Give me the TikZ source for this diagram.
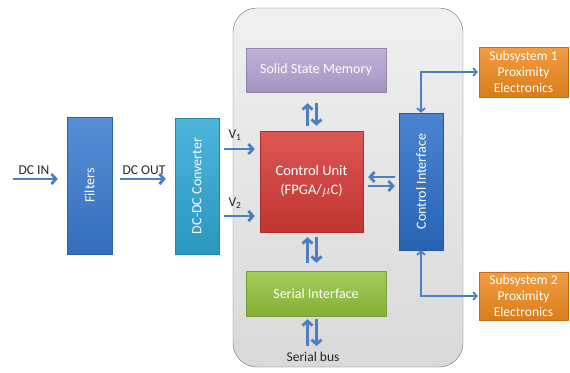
\documentclass[tikz,border=0pt]{standalone}
\usepackage{fontspec}
\setmainfont{Carlito}
\usetikzlibrary{arrows.meta}

\definecolor{filterblue}{HTML}{3A7AD0}
\definecolor{convcyan}{HTML}{2EA8D4}
\definecolor{memlilac}{HTML}{B6A4D6}
\definecolor{unitred}{HTML}{D63A36}
\definecolor{ifaceblue}{HTML}{2C6EC8}
\definecolor{serialgreen}{HTML}{92C43E}
\definecolor{suborange}{HTML}{F18B1F}
\definecolor{linkblue}{HTML}{4A7FC0}
\definecolor{labelgray}{HTML}{262626}

\begin{document}
\begin{tikzpicture}[x = 1pt, y = -1pt,
    block/.style = {draw = #1!80!black, top color = #1!85!white,
                    bottom color = #1!90!black, text = white,
                    inner sep = 0pt, align = center,
                    font = \fontsize{14}{17}\selectfont},
    link/.style  = {draw = linkblue, line width = 2.8pt,
                    -{Straight Barb[length = 4.5pt, width = 10pt]}},
    thin link/.style = {draw = linkblue, line width = 1.8pt,
                    {Straight Barb[length = 3.5pt, width = 8pt]}-{Straight Barb[length = 3.5pt, width = 8pt]}},
    lbl/.style   = {text = labelgray, inner sep = 0pt,
                    font = \fontsize{13.5}{15}\selectfont}]
  \useasboundingbox (0, 0) rectangle (570, 372);

  % the rounded housing
  \node[draw = gray!85!black, rounded corners = 24pt,
        top color = gray!12, bottom color = gray!30,
        minimum width = 230pt, minimum height = 359pt] (panel) at (348, 187.5) {};

  % power path (rotated: north is the left side)
  \node[block = filterblue, minimum width = 137pt, minimum height = 45pt,
        rotate = 90] (filters) at (89.5, 185.5) {Filters};
  \node[block = convcyan, minimum width = 136pt, minimum height = 44pt,
        rotate = 90] (conv) at (197, 186) {DC-DC Converter};

  % blocks inside the housing
  \node[block = memlilac, minimum width = 140pt, minimum height = 44pt]
    (mem) at (316, 70) {Solid State Memory};
  \node[block = unitred, minimum width = 103pt, minimum height = 101pt,
        font = \fontsize{14.5}{19}\selectfont]
    (unit) at (311.5, 181.5) {Control Unit\\(FPGA/$\mu$C)};
  \node[block = ifaceblue, minimum width = 137pt, minimum height = 44pt,
        rotate = 90] (iface) at (421, 181.5) {Control Interface};
  \node[block = serialgreen, minimum width = 140pt, minimum height = 45pt]
    (serial) at (316, 293.5) {Serial Interface};

  % subsystems
  \node[block = suborange, minimum width = 89pt, minimum height = 50pt,
        font = \fontsize{13.5}{16}\selectfont]
    (sub1) at (523.5, 72) {Subsystem 1\\Proximity\\Electronics};
  \node[block = suborange, minimum width = 89pt, minimum height = 48pt,
        font = \fontsize{13.5}{16}\selectfont]
    (sub2) at (523.5, 296) {Subsystem 2\\Proximity\\Electronics};

  % labels
  \node[lbl] (dcin)  at (34, 170)  {DC IN};
  \node[lbl] (dcout) at (144, 170) {DC OUT};
  \node[lbl] (vone)  at (235, 135) {V\textsubscript{1}};
  \node[lbl] (vtwo)  at (235, 203) {V\textsubscript{2}};
  \node[lbl] (bus)   at (313, 357) {Serial bus};

  \coordinate (in)   at (13, 179);
  \coordinate (vin1) at (0, 149);
  \coordinate (vin2) at (0, 216);
  \coordinate (mid)  at (312, 0);
  \coordinate (busin) at (312, 346);

  % power arrows
  \draw[link, shorten >= 9pt] (in) -- (in -| filters.north);
  \draw[link, shorten <= 8pt, shorten >= 9pt] (in -| filters.south) -- (in -| conv.north);
  \draw[link, shorten <= 5pt, shorten >= 5pt] (vin1 -| conv.south) -- (vin1 -| unit.west);
  \draw[link, shorten <= 5pt, shorten >= 5pt] (vin2 -| conv.south) -- (vin2 -| unit.west);

  % paired arrows
  \draw[link, shorten <= 5pt, shorten >= 11pt]
    ([xshift = -4.5pt]mid |- unit.north) -- ([xshift = -4.5pt]mid |- mem.south);
  \draw[link, shorten <= 11pt, shorten >= 5pt]
    ([xshift = 4.5pt]mid |- mem.south) -- ([xshift = 4.5pt]mid |- unit.north);
  \draw[link, shorten <= 8pt, shorten >= 5pt]
    ([xshift = -4.5pt]mid |- serial.north) -- ([xshift = -4.5pt]mid |- unit.south);
  \draw[link, shorten <= 5pt, shorten >= 8pt]
    ([xshift = 4.5pt]mid |- unit.south) -- ([xshift = 4.5pt]mid |- serial.north);
  \draw[link, shorten >= 3pt]
    ([xshift = -4.5pt]busin) -- ([xshift = -4.5pt]busin |- serial.south);
  \draw[link, shorten <= 3pt]
    ([xshift = 4.5pt]busin |- serial.south) -- ([xshift = 4.5pt]busin);
  \draw[link, shorten <= 5pt, shorten >= 4pt]
    ([yshift = -4.5pt]unit.east) -- ([yshift = -4.5pt]unit.east -| iface.north);
  \draw[link, shorten <= 4pt, shorten >= 5pt]
    ([yshift = 4.5pt]unit.east -| iface.north) -- ([yshift = 4.5pt]unit.east);

  % control interface to the subsystems
  \draw[thin link, shorten >= 1pt] (iface.east) |- (sub1.west);
  \draw[thin link, shorten >= 1pt] (iface.west) |- (sub2.west);
\end{tikzpicture}
\end{document}
